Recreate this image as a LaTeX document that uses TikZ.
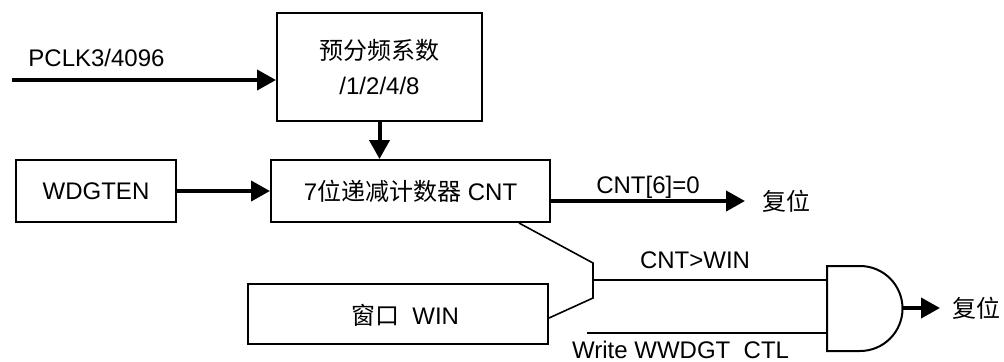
\documentclass[tikz,border=0pt]{standalone}
\usepackage{fontspec}
\setmainfont{Liberation Sans}
\newfontfamily\cjk{Noto Sans CJK SC}
\usetikzlibrary{arrows.meta, positioning, calc}
\newcommand{\zh}[1]{{\cjk #1}}

\begin{document}
\begin{tikzpicture}[
    x=0.5pt, y=0.5pt,
    font=\fontsize{12}{17.5}\selectfont,
    >={Triangle[length=9.5pt, width=10pt]},
    blockbox/.style={draw, line width=1pt, inner sep=0pt, align=center},
    bigarrow/.style={->, line width=2pt},
    sigline/.style={line width=0.8pt},
    gateline/.style={line width=1pt},
    siglabel/.style={inner sep=0pt, anchor=base},
    resetlabel/.style={anchor=west, inner ysep=0pt, inner xsep=#1},
]
\useasboundingbox (0,0) rectangle (1004,-361);

%% ========== BLOCKS ==========
\node[blockbox, minimum width=102.5pt, minimum height=54pt] (pre) at (379.5,-67)
    {\zh{预分频系数}\\/1/2/4/8};
\node[blockbox, minimum width=80pt, minimum height=31pt] (wdg) at (96,-191) {WDGTEN};
\node[blockbox, minimum width=139.5pt, minimum height=31pt] (cnt) at (410.5,-191)
    {7\zh{位递减计数器} CNT};
\node[blockbox, minimum width=150pt, minimum height=30pt] (win) at (398,-314) {};
\node (wintxt) at (405,-315) {\zh{窗口}\ \ WIN};

%% ========== INPUTS ==========
\coordinate (clkin) at (12,-80);
\draw[bigarrow] (clkin) -- (clkin -| pre.west)
    node[siglabel, pos=0.32, yshift=7pt] {PCLK3/4096};
\draw[bigarrow] (pre.south) -- (pre.south |- cnt.north);
\draw[bigarrow] (wdg.east) -- (cnt.west);

%% ========== UNDERFLOW RESET ==========
\node[resetlabel=8.5pt] (rst1) at (745,-201) {\zh{复位}};
\draw[bigarrow] (rst1.west -| cnt.east) -- (rst1.west)
    node[siglabel, midway, yshift=4pt] {CNT[6]=0};

%% ========== WINDOW COMPARATOR ==========
\coordinate (cmpin) at ($(cnt.south east)+(-32,0)$);
\coordinate (cmptop) at (593,-263);
\coordinate (cmpbot) at (593,-298);
\coordinate (cmpout) at (593,-280);
\draw[sigline] (cmpin) -- (cmptop) -- (cmpbot) -- ([yshift=-2pt]win.east);

%% ========== AND GATE ==========
\coordinate (andin1) at (827,-280);
\coordinate (andin2) at (827,-333);
\coordinate (andout) at (902,-308);
\coordinate (wrin) at (587,-333);
\draw[gateline] (827,-266) -- ++(33,0) arc[start angle=90, end angle=-90, radius=21.25pt]
    -- (827,-351) -- cycle;
\draw[sigline] (cmpout) -- (andin1)
    node[siglabel, pos=0.436, yshift=6pt] {CNT>WIN};
\draw[sigline] (wrin) -- (andin2)
    node[siglabel, pos=0.39, yshift=-12.5pt] {Write WWDGT\hspace{0.556em}CTL};
\node[resetlabel=6pt] (rst2) at (940,-308) {\zh{复位}};
\draw[bigarrow] (andout) -- (rst2.west);
\end{tikzpicture}
\end{document}
